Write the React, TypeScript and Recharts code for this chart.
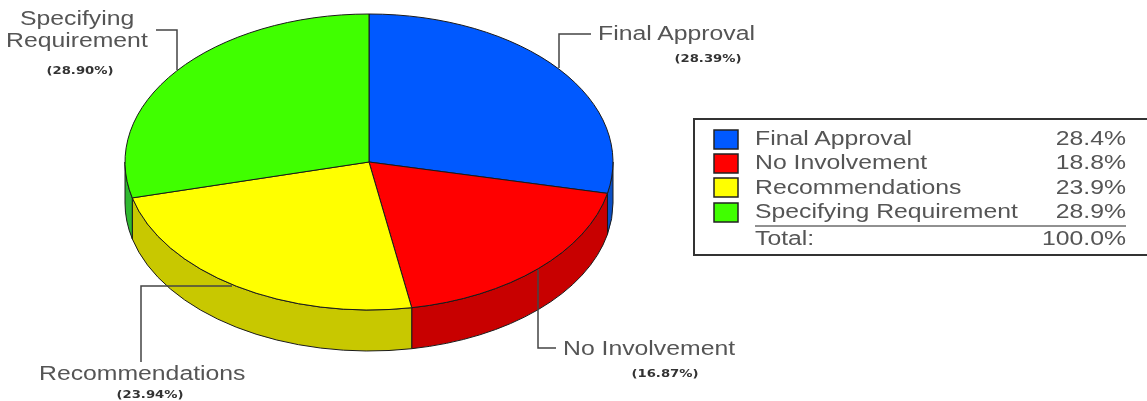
import { PieChart, Pie, Legend } from "recharts";

const categories = ["Final Approval", "No Involvement", "Recommendations", "Specifying Requirement"];
const shares = [28.4, 18.8, 23.9, 28.9];
const calloutValues = ["(28.39%)", "(16.87%)", "(23.94%)", "(28.90%)"];
const totalLabel = "100.0%";

const topColors = ["#0059ff", "#ff0000", "#ffff00", "#40ff00"];
const sideColors = ["#0a4fc4", "#c80000", "#c8c800", "#2fb82f"];

const sliceData = categories.map((name, i) => ({ name, value: shares[i], fill: topColors[i] }));
const wallData = categories.map((name, i) => ({ name, value: shares[i], fill: sideColors[i] }));

const TILT = 148 / 244;
const DEPTH = 41;
const RAD = Math.PI / 180;

// callout placement, one entry per slice
const calloutLines = ["559,68 559,34 591,34", "538,270 538,348 556,348", "232,286 141,286 141,362", "177,70 177,30 156,30"];
const calloutText = [
    [{ x: 598, y: 40, t: categories[0] }],
    [{ x: 563, y: 355, t: categories[1] }],
    [{ x: 39, y: 380, t: categories[2] }],
    [{ x: 20, y: 25, t: "Specifying" }, { x: 6, y: 47, t: "Requirement" }],
];
const calloutPct = [[708, 62], [665, 377], [150, 398], [80, 74]];

const pt = (p: any, deg: number) => [
    p.cx + p.outerRadius * Math.cos(deg * RAD),
    p.cy - p.outerRadius * TILT * Math.sin(deg * RAD),
];

// top face of the disc, squashed into an ellipse
const TopSlice = (p: any) => {
    const rx = p.outerRadius;
    const ry = rx * TILT;
    const [x1, y1] = pt(p, p.startAngle);
    const [x2, y2] = pt(p, p.endAngle);
    const large = Math.abs(p.startAngle - p.endAngle) > 180 ? 1 : 0;
    return (
        <path
            d={`M${p.cx},${p.cy} L${x1},${y1} A${rx},${ry} 0 ${large} 1 ${x2},${y2} Z`}
            fill={p.fill}
            stroke="#1a1a1a"
            strokeWidth={1}
        />
    );
};

// visible side wall: only the part of the rim in the front half
const WallSlice = (p: any) => {
    const rx = p.outerRadius;
    const ry = rx * TILT;
    const hi = Math.min(p.startAngle, 0);
    const lo = Math.max(p.endAngle, -180);
    if (hi <= lo) return <g />;
    const [x1, y1] = pt(p, hi);
    const [x2, y2] = pt(p, lo);
    return (
        <path
            d={`M${x1},${y1} A${rx},${ry} 0 0 1 ${x2},${y2} L${x2},${y2 + DEPTH} A${rx},${ry} 0 0 0 ${x1},${y1 + DEPTH} Z`}
            fill={p.fill}
            stroke="#1a1a1a"
            strokeWidth={1}
        />
    );
};

// source image is stretched sideways, so the text is too
const Wide = ({ x, y, anchor, children }: any) => (
    <text
        transform={`translate(${x},${y}) scale(1.18,1)`}
        textAnchor={anchor}
        fontFamily="Liberation Sans"
        fontSize={21}
        fill="#555"
    >
        {children}
    </text>
);

const Callout = (p: any) => {
    const i = p.index;
    return (
        <g>
            <polyline points={calloutLines[i]} fill="none" stroke="#444" strokeWidth={1.5} />
            {calloutText[i].map((l) => (
                <Wide key={l.t} x={l.x} y={l.y}>{l.t}</Wide>
            ))}
            <text
                transform={`translate(${calloutPct[i][0]},${calloutPct[i][1]}) scale(1.26,1)`}
                textAnchor="middle"
                fontFamily="DejaVu Sans"
                fontSize={10.5}
                fontWeight={700}
                fill="#333"
            >
                {calloutValues[i]}
            </text>
        </g>
    );
};

const LegendBox = () => {
    const rows = [145, 169, 194, 218];
    const boxes = [130, 154, 178, 203];
    return (
        <svg width={454} height={139} style={{ display: "block" }}>
            <rect x={1} y={1} width={460} height={136} fill="#fff" stroke="#333" strokeWidth={2} />
            {categories.map((name, i) => (
                <g key={name}>
                    <rect x={21} y={boxes[i] - 118} width={24} height={19} fill={topColors[i]} stroke="#222" strokeWidth={1.5} />
                    <Wide x={62} y={rows[i] - 118}>{name}</Wide>
                    <Wide x={433} y={rows[i] - 118} anchor="end">{shares[i].toFixed(1)}%</Wide>
                </g>
            ))}
            <line x1={62} x2={433} y1={108} y2={108} stroke="#222" strokeWidth={1} />
            <Wide x={62} y={127}>Total:</Wide>
            <Wide x={433} y={127} anchor="end">{totalLabel}</Wide>
        </svg>
    );
};

export default function App() {
    return (
        <div style={{ position: "absolute", left: 0, top: 0, width: 1147, height: 401, filter: "blur(0.4px)" }}>
            <PieChart width={1147} height={401} margin={{ top: 0, right: 0, bottom: 0, left: 0 }}>
                <Pie
                    data={wallData}
                    dataKey="value"
                    cx={369}
                    cy={162}
                    outerRadius={244}
                    startAngle={90}
                    endAngle={-270}
                    shape={WallSlice}
                    isAnimationActive={false}
                />
                <Pie
                    data={sliceData}
                    dataKey="value"
                    cx={369}
                    cy={162}
                    outerRadius={244}
                    startAngle={90}
                    endAngle={-270}
                    shape={TopSlice}
                    label={Callout}
                    labelLine={false}
                    isAnimationActive={false}
                />
                <Legend
                    content={<LegendBox />}
                    wrapperStyle={{ position: "absolute", left: 693, top: 118, width: 454, height: 139, bottom: "auto" }}
                />
            </PieChart>
        </div>
    );
}
